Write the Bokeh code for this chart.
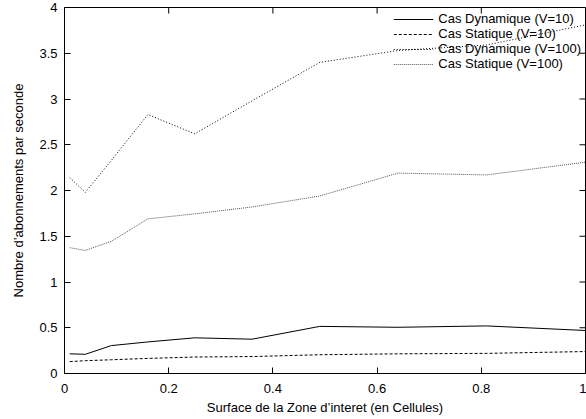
import math
from bokeh.plotting import figure
from bokeh.models import FixedTicker, Legend, LegendItem, Range1d
from bokeh.embed import file_html
from bokeh.resources import INLINE

# Data (surface in cells, subscriptions per second)
surface = [0.01, 0.04, 0.09, 0.16, 0.25, 0.36, 0.49, 0.64, 0.81, 1.0]
dyn_v10 = [0.215, 0.21, 0.305, 0.345, 0.39, 0.375, 0.515, 0.505, 0.52, 0.47]
stat_v10 = [0.13, 0.14, 0.15, 0.165, 0.18, 0.185, 0.205, 0.215, 0.22, 0.24]
dyn_v100 = [2.14, 1.98, 2.33, 2.83, 2.62, 2.98, 3.40, 3.53, 3.59, 3.81]
stat_v100 = [1.375, 1.345, 1.445, 1.69, 1.745, 1.82, 1.94, 2.19, 2.17, 2.31]

series_labels = ["Cas Dynamique (V=10)", "Cas Statique (V=10)",
                 "Cas Dynamique (V=100)", "Cas Statique (V=100)"]

x_ticks = [0, 0.2, 0.4, 0.6, 0.8, 1.0]
x_tick_labels = ["0", "0.2", "0.4", "0.6", "0.8", "1"]
y_ticks = [0, 0.5, 1, 1.5, 2, 2.5, 3, 3.5, 4]
y_tick_labels = ["0", "0.5", "1", "1.5", "2", "2.5", "3", "3.5", "4"]

FONT = "Liberation Sans"
FS = "13px"

p = figure(width=586, height=417, output_backend="svg", toolbar_location=None,
           x_range=Range1d(x_ticks[0], x_ticks[-1]),
           y_range=Range1d(y_ticks[0], y_ticks[-1]),
           min_border_left=64, min_border_right=1, min_border_top=7,
           min_border_bottom=0)
p.xgrid.visible = False
p.ygrid.visible = False
p.outline_line_color = "black"
p.outline_line_width = 1
p.background_fill_color = "white"
p.border_fill_color = "white"

def style_axis(ax):
    ax.axis_line_color = None
    ax.major_tick_in = 6
    ax.major_tick_out = 0
    ax.minor_tick_line_color = None
    ax.major_tick_line_color = "black"
    ax.major_label_text_font = FONT
    ax.major_label_text_font_size = FS
    ax.major_label_text_color = "black"
    ax.axis_label_text_font = FONT
    ax.axis_label_text_font_style = "normal"
    ax.axis_label_text_font_size = FS
    ax.axis_label_text_color = "black"

xa = p.xaxis[0]
xa.ticker = FixedTicker(ticks=x_ticks)
xa.major_label_overrides = dict(zip(x_ticks, x_tick_labels))
xa.axis_label = "Surface de la Zone d’interet (en Cellules)"
style_axis(xa)
xa.major_label_standoff = 10
xa.axis_label_standoff = 4

ya = p.yaxis[0]
ya.ticker = FixedTicker(ticks=y_ticks)
ya.major_label_overrides = dict(zip(y_ticks, y_tick_labels))
ya.axis_label = "Nombre d’abonnements par seconde"
style_axis(ya)
ya.major_label_standoff = 7
ya.axis_label_standoff = 10

# mirrored inward ticks on top and right edges (gnuplot style)
p.ray(x=x_ticks, y=[y_ticks[-1]] * len(x_ticks), length=6, length_units="screen",
      angle=-math.pi / 2, line_color="black", line_width=1)
p.ray(x=[x_ticks[-1]] * len(y_ticks), y=y_ticks, length=6, length_units="screen",
      angle=math.pi, line_color="black", line_width=1)

r1 = p.line(surface, dyn_v10, line_color="black", line_width=1)
r2 = p.line(surface, stat_v10, line_color="black", line_width=1, line_dash="3 2")
r3 = p.line(surface, dyn_v100, line_color="black", line_width=1, line_dash="1 2")
r4 = p.line(surface, stat_v100, line_color="#555555", line_width=1, line_dash="1 1")

legend = Legend(items=[LegendItem(label=lab, renderers=[r])
                       for lab, r in zip(series_labels, [r1, r2, r3, r4])],
                location="top_right")
legend.border_line_color = None
legend.background_fill_alpha = 0
legend.label_text_font = FONT
legend.label_text_font_size = FS
legend.label_text_line_height = 0.85
legend.label_text_color = "black"
legend.label_height = 12
legend.glyph_height = 12
legend.glyph_width = 40
legend.spacing = 0
legend.padding = 2
legend.margin = 4
legend.label_standoff = 5
p.add_layout(legend)

open("out.html", "w").write(file_html(p, INLINE))
